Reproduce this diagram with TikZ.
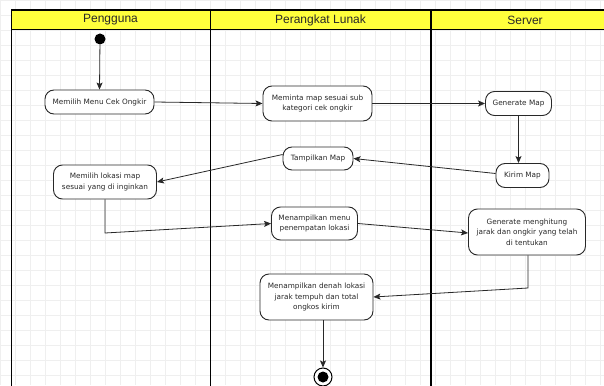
\documentclass[tikz,border=0pt]{standalone}
\usepackage{fontspec}
\setmainfont{DejaVu Sans}
\newfontfamily\headfont{Liberation Sans}
\usetikzlibrary{arrows.meta}

\definecolor{laneyellow}{RGB}{255,255,60}
\definecolor{gridgray}{RGB}{239,239,239}
\definecolor{ink}{RGB}{40,40,40}

\begin{document}
\begin{tikzpicture}[x=1pt,y=-1pt,
  act/.style={draw=ink, line width=0.9pt, rounded corners=9pt, fill=white,
    align=center, text=ink, inner sep=0pt,
    font=\fontsize{7.3}{10.5}\selectfont},
  flow/.style={draw=ink, line width=0.8pt, -{Stealth[length=7pt,width=6pt,inset=1.5pt]}},
  lane/.style={draw=black, line width=1.6pt},
  headtext/.style={font=\headfont\fontsize{12}{14}\selectfont, text=ink}]

\useasboundingbox (0,0) rectangle (604,385);
\clip (0,0) rectangle (604,385);

% faint background grid
\foreach \gx in {0,15,...,600} \draw[gridgray, line width=0.5pt] (\gx,0) -- (\gx,385);
\foreach \gy in {0,15,...,375} \draw[gridgray, line width=0.5pt] (0,\gy) -- (604,\gy);

% swimlane frame with headers
\fill[laneyellow] (11.5,10) rectangle (619,29.5);
\draw[lane] (11.5,400) -- (11.5,10) -- (619,10);
\draw[line width=1.3pt] (11.5,29.5) -- (619,29.5);
\draw[lane] (210.5,10) -- (210.5,400);
\draw[lane] (431,10) -- (431,400);
\draw[lane] (619,10) -- (619,400);

\node[headtext] (hA) at (110.5,20) {Pengguna};
\node[headtext] (hB) at (320.5,20) {Perangkat Lunak};
\node[headtext] (hC) at (525,20) {Server};

% initial and final states
\node[circle, fill=black, minimum size=11pt, inner sep=0pt] (start) at (100,39) {};
\node[circle, draw=black, line width=1pt, fill=white, minimum size=18pt, inner sep=0pt] (stop) at (323,377) {};
\node[circle, fill=black, minimum size=11pt, inner sep=0pt] (stopdot) at (stop.center) {};

% activities
\node[act, minimum width=109pt, minimum height=24pt] (n1) at (99.5,102) {Memilih Menu Cek Ongkir};
\node[act, minimum width=109pt, minimum height=35pt] (n2) at (317.5,103.5) {Meminta map sesuai sub\\kategori cek ongkir};
\node[act, minimum width=66pt, minimum height=24pt] (n3) at (518.5,103.5) {Generate Map};
\node[act, minimum width=53pt, minimum height=24pt] (n4) at (522.5,175.5) {Kirim Map};
\node[act, minimum width=70pt, minimum height=23pt] (n5) at (318,158.5) {Tampilkan Map};
\node[act, minimum width=103pt, minimum height=34pt] (n6) at (105,182) {Memilih lokasi map\\sesuai yang di inginkan};
\node[act, minimum width=86pt, minimum height=33pt] (n7) at (314.5,223.5) {Menampilkan menu\\penempatan lokasi};
\node[act, minimum width=117pt, minimum height=46pt] (n8) at (527,232) {Generate menghitung\\jarak dan ongkir yang telah\\di tentukan};
\node[act, minimum width=113pt, minimum height=46pt] (n9) at (316.5,297) {Menampilkan denah lokasi\\jarak tempuh dan total\\ongkos kirim};

% bend points
\coordinate (b1) at (105,233);
\coordinate (b2) at (528,288);

% control flow
\draw[flow] (start) -- (n1.north);
\draw[flow] (n1.east) -- (n2.west);
\draw[flow] (n2.east) -- (n3.west);
\draw[flow] (n3.south) -- (n3.south |- n4.north);
\draw[flow] ([yshift=2pt]n4.west) -- (n5.east);
\draw[flow] ([yshift=4pt]n5.west) -- (n6.east);
\draw[flow] (n6.south) -- (b1) -- (n7.west);
\draw[flow] (n7.east) -- ([yshift=-1pt]n8.west);
\draw[flow] (b2 |- n8.south) -- (b2) -- (n9.east);
\draw[flow] (stop.north |- n9.south) -- (stop.north);

\end{tikzpicture}
\end{document}
